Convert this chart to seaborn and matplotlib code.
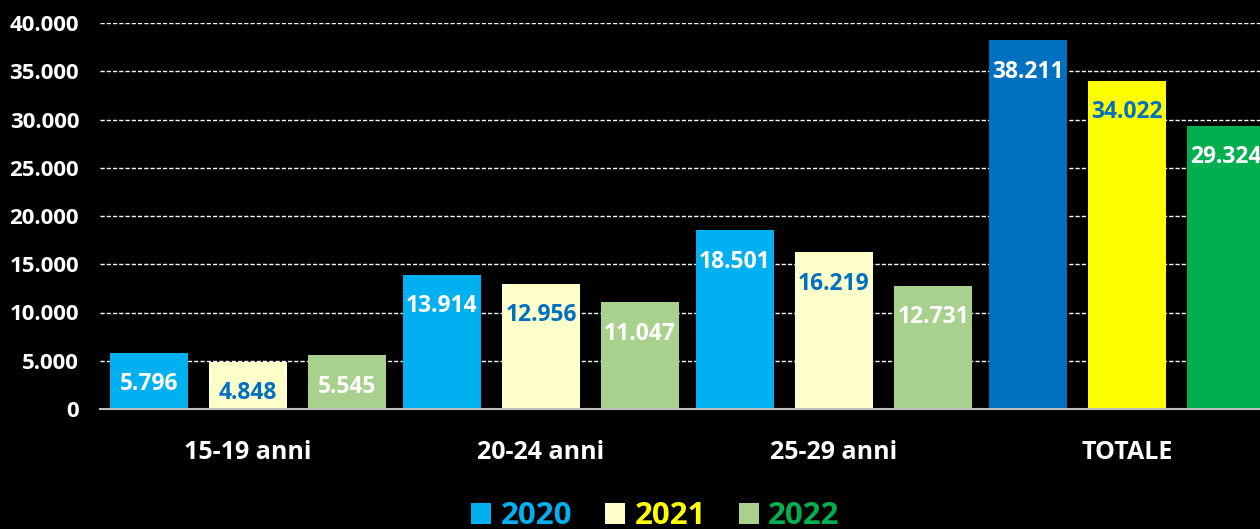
import pandas as pd
import matplotlib.pyplot as plt
import seaborn as sns
from matplotlib.patches import Patch
from matplotlib.ticker import FuncFormatter

categories = ['15-19 anni', '20-24 anni', '25-29 anni', 'TOTALE']
years = ['2020', '2021', '2022']
v2020 = [5796, 13914, 18501, 38211]
v2021 = [4848, 12956, 16219, 34022]
v2022 = [5545, 11047, 12731, 29324]

# colours: normal groups, TOTALE group, label text, legend text
bar_colors = ['#00B0F0', '#FFFFCC', '#A9D18E']
tot_colors = ['#0070C0', '#FFFF00', '#00B050']
label_colors = ['white', '#0070C0', 'white']
legend_text_colors = ['#00B0F0', '#FFFF00', '#00B050']

df = pd.DataFrame({
    'Categoria': categories * 3,
    'Anno': [y for y in years for _ in categories],
    'Valore': v2020 + v2021 + v2022,
})

sns.set_theme(style='dark')
plt.rcParams['font.family'] = ['Open Sans', 'DejaVu Sans']
plt.rcParams['font.weight'] = 'bold'

fig = plt.figure(figsize=(12.6, 5.29), dpi=100, facecolor='black')
ax = fig.add_axes([100 / 1260, 120 / 529, 1 - 100 / 1260, (506 - 120) / 529])
ax.set_facecolor('black')

sns.barplot(data=df, x='Categoria', y='Valore', hue='Anno', order=categories,
            hue_order=years, palette=bar_colors, width=1.015, gap=0.21,
            errorbar=None, legend=False, saturation=1, ax=ax)

fmt = lambda v: f"{int(v):,}".replace(",", ".")

for i, cont in enumerate(ax.containers):
    cont.patches[3].set_facecolor(tot_colors[i])
    for p in cont.patches:
        p.set_edgecolor('none')
        h = p.get_height()
        ax.annotate(fmt(h), (p.get_x() + p.get_width() / 2, h),
                    xytext=(0, -22.5), textcoords='offset points',
                    ha='center', va='center', color=label_colors[i],
                    fontsize=16.5, fontweight='bold', zorder=5)

ax.set_ylim(0, 40000)
ax.set_xlim(-0.505, 3.454)
ax.set_yticks(range(0, 40001, 5000))
ax.yaxis.set_major_formatter(FuncFormatter(lambda v, _: fmt(v)))
ax.grid(axis='y', color='white', linestyle=(0, (3, 1.5)), linewidth=1.0)
ax.grid(axis='x', visible=False)
ax.set_axisbelow(True)
ax.set_xlabel('')
ax.set_ylabel('')
for s in ['top', 'right', 'left']:
    ax.spines[s].set_visible(False)
ax.spines['bottom'].set_color('#BFBFBF')
ax.spines['bottom'].set_linewidth(1.5)
ax.tick_params(axis='y', length=0, pad=15, labelsize=16, labelcolor='white')
ax.tick_params(axis='x', length=0, pad=22, labelsize=18, labelcolor='white')
for t in ax.get_xticklabels() + ax.get_yticklabels():
    t.set_fontweight('bold')

handles = [Patch(facecolor=c, edgecolor='none') for c in bar_colors]
leg = fig.legend(handles, years, loc='center', bbox_to_anchor=(0.52, 0.024),
                 ncol=3, frameon=False, fontsize=22.5, handlelength=0.65,
                 handleheight=0.65, handletextpad=0.3, columnspacing=1.05)
for t, c in zip(leg.get_texts(), legend_text_colors):
    t.set_color(c)
    t.set_fontweight('bold')

fig.savefig('out.png', dpi=100, facecolor='black')
